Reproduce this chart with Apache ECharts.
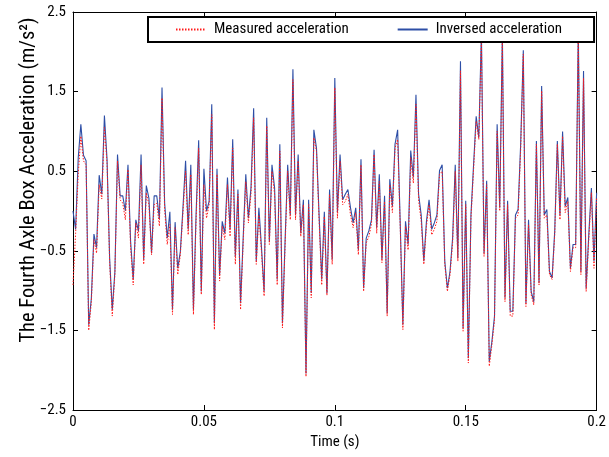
<!DOCTYPE html>
<html>
<head>
<meta charset="utf-8">
<script src="https://cdn.jsdelivr.net/npm/echarts@6/dist/echarts.min.js"></script>
<style>html,body{margin:0;padding:0;background:#fff;}#c{width:609px;height:457px;}</style>
</head>
<body>
<div id="c"></div>
<script>
const sampleStep = 0.001; // s between samples
const xTicks = [0, 0.05, 0.1, 0.15, 0.2];
const yTicks = [-2.5, -1.5, -0.5, 0.5, 1.5, 2.5];
const seriesNames = ['Measured acceleration', 'Inversed acceleration'];

const inversed = [
 0.00,-0.23,0.67,1.09,0.70,0.63,-1.43,-1.10,-0.29,-0.46,
 0.45,0.21,1.20,0.65,-0.60,-1.24,-0.76,0.71,0.19,0.19,
 0.00,0.58,-0.38,-0.86,-0.11,-0.25,0.71,-0.61,0.32,0.16,
 -0.53,0.19,0.19,-0.10,1.55,0.10,-0.34,-0.01,-1.24,-0.14,
 -0.72,-0.51,0.04,0.63,-0.23,0.58,-1.24,-0.05,0.89,-1.01,
 0.53,0.00,0.12,1.34,-1.41,0.53,-0.80,-0.13,-0.28,0.42,
 -0.23,0.90,-0.57,0.27,-1.16,-0.34,0.46,-0.09,0.30,1.29,
 -0.63,0.04,-0.46,-1.01,1.17,-0.38,0.58,0.29,-0.86,0.84,
 -1.41,-0.38,0.58,-0.05,1.78,-0.05,0.71,-0.28,0.14,-2.04,
 0.14,-1.03,1.02,0.79,-0.05,-0.86,-0.01,-1.03,0.27,-0.61,
 1.67,-0.02,0.71,0.14,0.21,0.27,0.04,-0.15,0.04,-0.49,
 0.65,-0.97,-0.34,-0.25,-0.11,0.77,-0.21,0.46,-0.61,0.19,
 -1.28,0.40,0.06,0.84,1.02,-0.17,-1.43,-0.13,-0.42,0.76,
 0.42,1.46,0.21,-0.05,-0.63,-0.13,0.14,-0.23,-0.15,-0.05,
 0.51,0.58,-0.63,-0.97,-0.76,-0.34,0.58,-0.59,1.88,-1.47,
 0.13,-1.85,-0.05,0.58,1.19,0.92,2.25,-0.53,0.38,-1.89,
 -1.64,-1.32,1.09,0.04,2.25,-1.09,0.13,-1.26,-1.26,-0.05,
 0.02,0.85,2.02,-1.16,-0.11,-1.01,-1.14,0.88,-0.90,1.57,
 -0.05,0.02,-0.76,-0.84,-0.25,0.88,-0.05,1.00,0.06,0.17,
 -0.72,-0.42,-0.42,2.30,-0.76,1.76,-0.97,-0.30,0.29,-0.63,
 0.23
];

const measured = [
 -0.93,-0.28,0.46,0.94,0.63,0.58,-1.50,-1.15,-0.36,-0.53,
 0.33,0.15,1.05,0.60,-0.65,-1.32,-0.80,0.63,0.14,0.10,
 -0.11,0.52,-0.46,-0.93,-0.15,-0.34,0.58,-0.67,0.23,0.08,
 -0.55,0.08,0.10,-0.19,1.42,0.02,-0.42,-0.17,-1.30,-0.21,
 -0.80,-0.55,-0.02,0.50,-0.30,0.46,-1.30,-0.13,0.79,-1.05,
 0.33,-0.09,0.08,1.21,-1.49,0.46,-0.88,-0.19,-0.36,0.33,
 -0.32,0.79,-0.67,0.21,-1.24,-0.40,0.37,-0.15,0.22,1.17,
 -0.67,-0.05,-0.52,-1.07,1.07,-0.42,0.50,0.21,-0.93,0.75,
 -1.47,-0.45,0.50,-0.11,1.65,-0.11,0.63,-0.32,0.08,-2.08,
 0.08,-1.09,0.92,0.75,-0.12,-0.93,-0.07,-1.06,0.21,-0.67,
 1.55,-0.09,0.63,0.08,0.12,0.21,-0.05,-0.21,-0.02,-0.55,
 0.58,-1.01,-0.40,-0.32,-0.17,0.71,-0.28,0.37,-0.65,0.12,
 -1.32,0.33,-0.02,0.79,0.90,-0.22,-1.49,-0.19,-0.49,0.67,
 0.35,1.34,0.14,-0.13,-0.67,-0.19,0.08,-0.30,-0.23,-0.13,
 0.46,0.50,-0.67,-1.01,-0.80,-0.40,0.50,-0.63,1.76,-1.51,
 0.08,-1.91,-0.10,0.52,1.13,0.90,2.15,-0.57,0.33,-1.95,
 -1.68,-1.37,1.00,0.00,2.15,-1.14,0.08,-1.32,-1.32,-0.09,
 -0.05,0.78,1.97,-1.20,-0.17,-1.05,-1.18,0.84,-0.93,1.51,
 -0.09,-0.05,-0.80,-0.86,-0.30,0.84,-0.11,0.94,-0.02,0.12,
 -0.76,-0.46,-0.46,2.20,-0.80,1.67,-1.01,-0.36,0.23,-0.72,
 0.16
];

const FONT = '"Roboto Condensed","Liberation Sans Narrow",sans-serif';
const toPairs = arr => arr.map((v, i) => [+(i * sampleStep).toFixed(4), v]);
const fmtNum = v => String(+v.toFixed(3)).replace('-', '\u2212');

const chart = echarts.init(document.getElementById('c'), null, {renderer: 'canvas'});
const axisCommon = {
  axisLine: {show: true, onZero: false, lineStyle: {color: '#000', width: 1}},
  axisTick: {show: true, inside: true, length: 5, lineStyle: {color: '#000'}},
  splitLine: {show: false}
};
chart.setOption({
  animation: false,
  backgroundColor: '#fff',
  grid: {left: 73, right: 12, top: 12, bottom: 47, containLabel: false},
  legend: {
    data: seriesNames,
    left: 148, top: 17,
    itemWidth: 30, itemHeight: 10, itemGap: 48,
    padding: [5, 32, 5, 27],
    backgroundColor: '#fff', borderColor: '#000', borderWidth: 2,
    itemStyle: {opacity: 0},
    textStyle: {fontFamily: FONT, fontSize: 15, color: '#000', padding: [0, 0, 0, 3]},
    z: 10
  },
  xAxis: [
    Object.assign({}, axisCommon, {
      type: 'value', min: xTicks[0], max: xTicks[xTicks.length - 1], interval: xTicks[1] - xTicks[0],
      name: 'Time (s)', nameLocation: 'middle', nameGap: 22,
      nameTextStyle: {fontFamily: FONT, fontSize: 15, color: '#000'},
      axisLabel: {fontFamily: FONT, fontSize: 15, color: '#000', margin: 5, formatter: fmtNum}
    }),
    Object.assign({}, axisCommon, {
      type: 'value', position: 'top', min: xTicks[0], max: xTicks[xTicks.length - 1], interval: xTicks[1] - xTicks[0],
      axisLabel: {show: false}
    })
  ],
  yAxis: [
    Object.assign({}, axisCommon, {
      type: 'value', min: yTicks[0], max: yTicks[yTicks.length - 1], interval: yTicks[1] - yTicks[0],
      name: 'The Fourth Axle Box Acceleration (m/s\u00B2)', nameLocation: 'middle', nameGap: 34,
      nameMoveOverlap: false,
      nameTextStyle: {fontFamily: FONT, fontSize: 20.5, color: '#000', padding: [0, 0, 0, 62]},
      axisLabel: {fontFamily: FONT, fontSize: 15, color: '#000', margin: 7, formatter: fmtNum}
    }),
    Object.assign({}, axisCommon, {
      type: 'value', position: 'right', min: yTicks[0], max: yTicks[yTicks.length - 1], interval: yTicks[1] - yTicks[0],
      axisLabel: {show: false}
    })
  ],
  series: [
    {
      name: seriesNames[1], type: 'line', data: toPairs(inversed),
      symbol: 'none', lineStyle: {color: '#2d4ea6', width: 1.1}, itemStyle: {color: '#2d4ea6'}, z: 2
    },
    {
      name: seriesNames[0], type: 'line', data: toPairs(measured),
      symbol: 'none', lineStyle: {color: '#ff1a1a', width: 1, type: [1.5, 1.5]}, itemStyle: {color: '#ff1a1a'}, z: 3
    }
  ]
});
</script>
</body>
</html>
